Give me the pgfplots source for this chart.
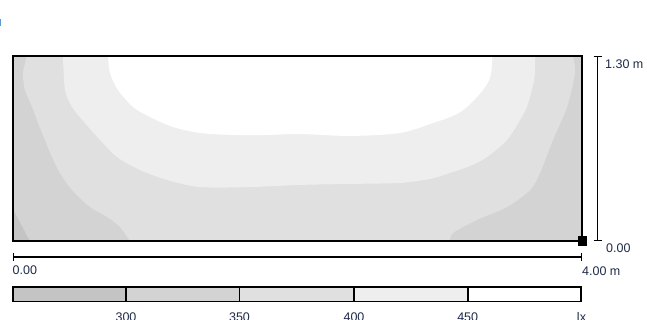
\documentclass[border=0pt]{standalone}
\usepackage{pgfplots}
\pgfplotsset{compat=1.18}
\usepackage{fontspec}
\setmainfont{Liberation Sans}

% illuminance bands (lx)
\definecolor{lvA}{HTML}{C4C4C4} % < 300
\definecolor{lvB}{HTML}{D3D3D3} % 300-350
\definecolor{lvC}{HTML}{E0E0E0} % 350-400
\definecolor{lvD}{HTML}{EEEEEE} % 400-450
\definecolor{lvE}{HTML}{FFFFFF} % > 450
\definecolor{labelink}{HTML}{1E2A48}
\definecolor{markblue}{HTML}{5B9BD5}

\begin{document}
\begin{tikzpicture}[x=1pt,y=1pt,font=\fontsize{12.5}{14}\selectfont]
\useasboundingbox (0,0) rectangle (647,320);

\fill[markblue] (0,294) rectangle (1.4,300.5);

\begin{axis}[
  at={(13pt,79pt)}, anchor=south west,
  scale only axis, width=569pt, height=185pt,
  xmin=0, xmax=4, ymin=0, ymax=1.3,
  ticks=none, axis on top,
  axis line style={line width=1.4pt, black},
  axis background/.style={fill=lvB},
]
% < 300 lx, lower left corner
\addplot[fill=lvA, draw=none, smooth, tension=0.5] coordinates {
  (-0.05,0.25) (0,0.218) (0.035,0.155) (0.070,0.091) (0.098,0.035)
  (0.120,0) (0.13,-0.05) (-0.05,-0.05)};
% >= 350 lx
\addplot[fill=lvC, draw=none, smooth, tension=0.5] coordinates {
  (0.10,1.40) (0.096,1.300) (0.070,1.181) (0.084,1.061) (0.134,0.942)
  (0.176,0.829) (0.225,0.710) (0.274,0.590) (0.330,0.478) (0.415,0.358)
  (0.541,0.239) (0.661,0.169) (0.752,0.098) (0.822,0) (0.87,-0.07)
  (3.03,-0.07) (3.072,0) (3.093,0.056) (3.262,0.148) (3.473,0.239)
  (3.635,0.358) (3.705,0.478) (3.796,0.710) (3.895,0.942) (3.951,1.181)
  (3.937,1.300) (3.93,1.40)};
% >= 400 lx
\addplot[fill=lvD, draw=none, smooth, tension=0.5] coordinates {
  (0.351,1.40) (0.351,1.300) (0.366,1.061) (0.415,0.942) (0.506,0.829)
  (0.612,0.710) (0.731,0.590) (0.893,0.499) (1.083,0.429) (1.315,0.379)
  (1.666,0.379) (2.018,0.394) (2.369,0.401) (2.721,0.408) (2.931,0.436)
  (3.072,0.478) (3.213,0.527) (3.332,0.590) (3.473,0.710) (3.564,0.850)
  (3.613,0.942) (3.656,1.096) (3.670,1.181) (3.670,1.300) (3.670,1.40)};
% >= 450 lx
\addplot[fill=lvE, draw=none, smooth, tension=0.5] coordinates {
  (0.668,1.40) (0.668,1.300) (0.682,1.181) (0.738,1.061) (0.844,0.942)
  (0.963,0.871) (1.125,0.801) (1.315,0.759) (1.547,0.745) (1.786,0.745)
  (2.018,0.752) (2.369,0.738) (2.721,0.759) (2.953,0.829) (3.107,0.885)
  (3.192,0.942) (3.304,1.061) (3.353,1.145) (3.367,1.237) (3.367,1.300)
  (3.367,1.40)};
% reference point
\addplot[only marks, mark=square*, mark size=4.3pt, black] coordinates {(4,0)};
\end{axis}

% height scale
\draw[line width=1.6pt] (597.5,263.5) -- (597.5,79.5);
\draw[line width=1.4pt] (593.5,263.5) -- (601.5,263.5) (593.5,79.5) -- (601.5,79.5);
\node[anchor=west, text=labelink, inner sep=0] at (605,256) {1.30 m};
\node[anchor=west, text=labelink, inner sep=0] at (606,71.5) {0.00};

% length scale
\draw[line width=1.6pt] (13,63) -- (582,63);
\draw[line width=1.4pt] (13.7,67) -- (13.7,59) (581.3,67) -- (581.3,59);
\node[anchor=west, text=labelink, inner sep=0] at (12.5,49.5) {0.00};
\node[anchor=west, text=labelink, inner sep=0] at (582,49) {4.00 m};

% colour key
\fill[lvA] (13,33) rectangle (126,18.3);
\fill[lvB] (126,33) rectangle (239.5,18.3);
\fill[lvC] (239.5,33) rectangle (354,18.3);
\fill[lvD] (354,33) rectangle (467.7,18.3);
\fill[lvE] (467.7,33) rectangle (581,18.3);
\draw[line width=1.6pt] (13,33) rectangle (581,18.3);
\draw[line width=1.6pt] (126,33) -- (126,18.3) (239.5,33) -- (239.5,18.3)
  (354,33) -- (354,18.3) (467.7,33) -- (467.7,18.3);
\foreach \xx/\tt in {126/300, 239.5/350, 354/400, 467.7/450, 581.5/lx}
  \node[anchor=base, text=labelink, inner sep=0] at (\xx,-2) {\tt};
\end{tikzpicture}
\end{document}
